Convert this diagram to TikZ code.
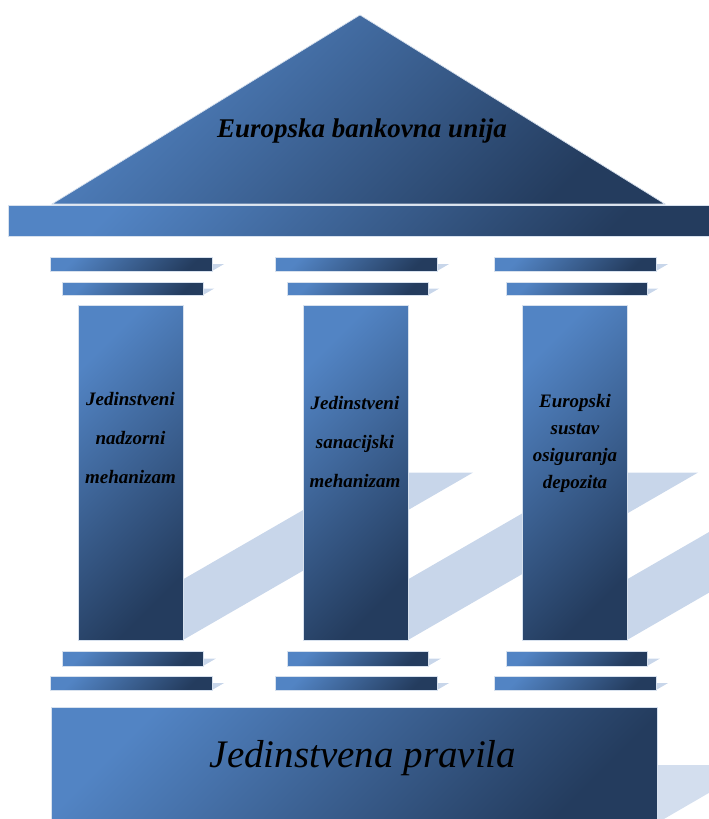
\documentclass[tikz,border=0pt]{standalone}
\usepackage{fontspec}
\setmainfont{Liberation Serif}
\definecolor{bluelight}{RGB}{82,132,196}
\definecolor{bluedark}{RGB}{36,60,94}
\definecolor{blkedge}{RGB}{215,225,238}
\definecolor{shadowc}{RGB}{200,214,234}
\newcommand\shrect[4]{\fill[shadowc] (#1,#4) -- (#3,#4) -- ({#3+0.866*(#4-#2)},{(#2+#4)/2}) -- ({#1+0.866*(#4-#2)},{(#2+#4)/2}) -- cycle;}
\newcommand\pillarshadow[1]{%
  \shrect{50+#1}{257}{212+#1}{271}%
  \shrect{62+#1}{282}{203+#1}{295}%
  \shrect{78+#1}{305}{183+#1}{640}%
  \shrect{62+#1}{651}{203+#1}{666}%
  \shrect{50+#1}{676}{212+#1}{690}}
\newcommand\pillarbody[2]{%
  \node[blk, minimum width=162pt, minimum height=14pt] (#2a) at (50+#1,257) {};
  \node[blk, minimum width=141pt, minimum height=13pt] (#2b) at (62+#1,282) {};
  \node[blk, minimum width=105pt, minimum height=335pt] (#2s) at (78+#1,305) {};
  \node[blk, minimum width=141pt, minimum height=15pt] (#2c) at (62+#1,651) {};
  \node[blk, minimum width=162pt, minimum height=14pt] (#2d) at (50+#1,676) {};}
\begin{document}
\begin{tikzpicture}[x=1pt,y=-1pt,
  blk/.style={draw=blkedge, line width=0.7pt, top color=bluelight, bottom color=bluedark, shading angle=45, inner sep=0pt, outer sep=0pt, anchor=north west},
  ptext/.style={align=center, text=black, font=\fontsize{19}{39}\selectfont\bfseries\itshape},
  ptextb/.style={align=center, text=black, font=\fontsize{19}{27}\selectfont\bfseries\itshape}]
\useasboundingbox (0,0) rectangle (709,819);
\clip (0,0) rectangle (709,819);
% shadows
\fill[shadowc!55!white] (52,204) -- (665,204) -- (517,112) -- cycle;
\begin{scope}[shadowc/.append style={}]
\fill[shadowc!80!white] (51,823) -- (657,823) -- (757,765) -- (151,765) -- cycle;
\end{scope}
\pillarshadow{0}
\pillarshadow{225}
\pillarshadow{444}
% roof
\path[blk] (52,204) -- (360,15) -- (665,204) -- cycle;
\node[blk, minimum width=705pt, minimum height=31pt] (bar) at (8,205) {};
\node[font=\fontsize{27}{30}\selectfont\bfseries\itshape, anchor=base] (title) at (362,137) {Europska bankovna unija};
% pillars
\pillarbody{0}{p1}
\pillarbody{225}{p2}
\pillarbody{444}{p3}
\node[ptext] (t1) at (130.5,438) {Jedinstveni\\nadzorni\\mehanizam};
\node[ptext] (t2) at (355,442) {Jedinstveni\\sanacijski\\mehanizam};
\node[ptextb] (t3) at (575,443) {Europski\\sustav\\osiguranja\\depozita};
% base
\node[blk, minimum width=606pt, minimum height=116pt] (base) at (51,707) {};
\node[font=\fontsize{39}{41}\selectfont\itshape, anchor=base] (basetext) at (363,767) {Jedinstvena pravila};
\end{tikzpicture}
\end{document}
